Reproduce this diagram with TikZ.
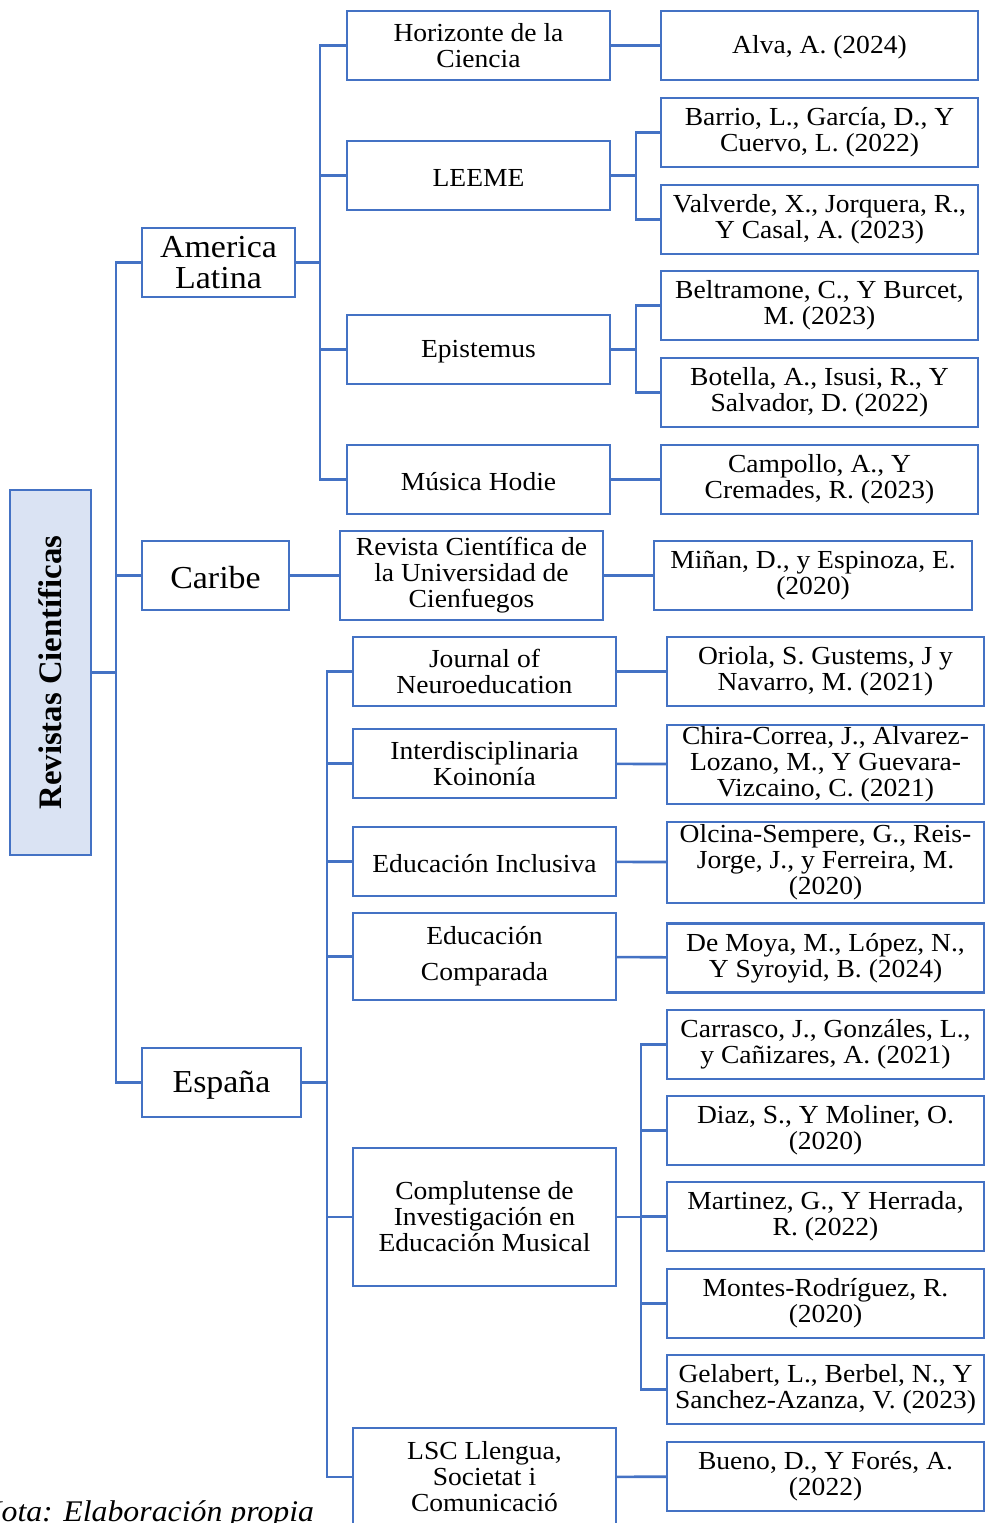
\documentclass[tikz,border=0pt]{standalone}
\usepackage{fontspec}
\setmainfont{Liberation Serif}[FakeStretch=1.06]
\newfontfamily\rootfont{Liberation Serif}
\definecolor{bblue}{HTML}{4472C4}
\definecolor{lblue}{HTML}{DAE3F3}
\begin{document}
\begin{tikzpicture}[x=0.5pt,y=-0.5pt,
  box/.style={draw=bblue,line width=1.2pt,fill=white,align=center,inner sep=0pt,
    font=\fontsize{13}{13}\selectfont,execute at begin node={\rule{0pt}{11pt}}},
  lvone/.style={box,minimum height=34.5pt,font=\fontsize{16}{15.5}\selectfont,
    execute at begin node={\rule{0pt}{13.5pt}}},
  lvtwo/.style={box,minimum width=131.5pt,minimum height=34.5pt},
  lvthree/.style={box,minimum width=158.5pt,minimum height=34.5pt},
  conn/.style={draw=bblue,line width=1.3pt}]
\useasboundingbox (0,0) rectangle (985,1523);

% buses
\coordinate (bus0) at (116,0);
\coordinate (busA) at (320,0);
\coordinate (busL) at (636,0);
\coordinate (busE) at (327,0);
\coordinate (busC) at (641,0);

% root
\node[draw=bblue,line width=1.2pt,fill=lblue,rotate=90,minimum width=182.5pt,minimum height=40.5pt,inner sep=0pt,
  font=\rootfont\bfseries\fontsize{16.4}{18}\selectfont] (root) at (50.5,672.5) {Revistas Científicas};

% level 1
\node[lvone,minimum width=76.5pt] (amlat) at (218.5,262.5) {America\\Latina};
\node[lvone,minimum width=73.5pt] (caribe) at (215.5,575.5) {Caribe};
\node[lvone,minimum width=79.5pt] (espana) at (221.5,1082.5) {España};

% level 2 America Latina
\node[lvtwo] (horiz) at (478.5,45.5) {Horizonte de la\\Ciencia};
\node[lvtwo] (leeme) at (478.5,175.5) {LEEME};
\node[lvtwo] (epist) at (478.5,349.5) {Epistemus};
\node[lvtwo] (hodie) at (478.5,479.5) {Música Hodie};

% level 3 America Latina
\node[lvthree] (alva) at (819.5,45.5) {Alva, A. (2024)};
\node[lvthree] (barrio) at (819.5,132.5) {Barrio, L., García, D., Y\\Cuervo, L. (2022)};
\node[lvthree] (valverde) at (819.5,219.5) {Valverde, X., Jorquera, R.,\\Y Casal, A. (2023)};
\node[lvthree] (beltra) at (819.5,305.5) {Beltramone, C., Y Burcet,\\M. (2023)};
\node[lvthree] (botella) at (819.5,392.5) {Botella, A., Isusi, R., Y\\Salvador, D. (2022)};
\node[lvthree] (campollo) at (819.5,479.5) {Campollo, A., Y\\Cremades, R. (2023)};

% Caribe
\node[lvtwo,minimum height=44.5pt] (cienf) at (471.5,575.5) {Revista Científica de\\la Universidad de\\Cienfuegos};
\node[lvthree,minimum width=159pt] (minan) at (813,575.5) {Miñan, D., y Espinoza, E.\\(2020)};

% level 2 España
\node[lvtwo] (journal) at (484.5,671.5) {Journal of\\Neuroeducation};
\node[lvtwo] (koinonia) at (484.5,763.5) {Interdisciplinaria\\Koinonía};
\node[lvtwo] (inclus) at (484.5,861.5) {Educación Inclusiva};
\node[lvtwo,minimum height=43.5pt] (compar) at (484.5,956.5) {Educación\\[5pt]Comparada};
\node[lvtwo,minimum height=69pt] (complut) at (484.5,1217) {Complutense de\\Investigación en\\Educación Musical};
\node[lvtwo,minimum height=49pt] (lsc) at (484.5,1477) {LSC Llengua,\\Societat i\\Comunicació};

% level 3 España
\node[lvthree] (oriola) at (825.5,671.5) {Oriola, S. Gustems, J y\\Navarro, M. (2021)};
\node[lvthree,minimum height=39.5pt] (chira) at (825.5,764.5) {Chira-Correa, J., Alvarez-\\Lozano, M., Y Guevara-\\Vizcaino, C. (2021)};
\node[lvthree,minimum height=40.5pt] (olcina) at (825.5,862.5) {Olcina-Sempere, G., Reis-\\Jorge, J., y Ferreira, M.\\(2020)};
\node[lvthree] (demoya) at (825.5,958) {De Moya, M., López, N.,\\Y Syroyid, B. (2024)};
\node[lvthree] (carrasco) at (825.5,1044.5) {Carrasco, J., Gonzáles, L.,\\y Cañizares, A. (2021)};
\node[lvthree] (diaz) at (825.5,1130.5) {Diaz, S., Y Moliner, O.\\(2020)};
\node[lvthree] (martinez) at (825.5,1216.5) {Martinez, G., Y Herrada,\\R. (2022)};
\node[lvthree] (montes) at (825.5,1303.5) {Montes-Rodríguez, R.\\(2020)};
\node[lvthree] (gelabert) at (825.5,1389.5) {Gelabert, L., Berbel, N., Y\\Sanchez-Azanza, V. (2023)};
\node[lvthree] (bueno) at (825.5,1476.5) {Bueno, D., Y Forés, A.\\(2022)};

% note
\node[anchor=base west,inner sep=0pt,font=\itshape\fontsize{15}{15}\selectfont] (nota) at (-20,1521) {Nota: Elaboración propia};

% connectors
\foreach \c in {amlat,caribe,espana}
  \draw[conn] (root.south) -- (root.south -| bus0) |- (\c.west);
\foreach \c in {horiz,leeme,epist,hodie}
  \draw[conn] (amlat.east) -- (amlat.east -| busA) |- (\c.west);
\draw[conn] (horiz) -- (alva);
\foreach \c in {barrio,valverde}
  \draw[conn] (leeme.east) -- (leeme.east -| busL) |- (\c.west);
\foreach \c in {beltra,botella}
  \draw[conn] (epist.east) -- (epist.east -| busL) |- (\c.west);
\draw[conn] (hodie) -- (campollo);
\draw[conn] (caribe) -- (cienf);
\draw[conn] (cienf) -- (minan);
\foreach \c in {journal,koinonia,inclus,compar,complut,lsc}
  \draw[conn] (espana.east) -- (espana.east -| busE) |- (\c.west);
\draw[conn] (journal) -- (oriola);
\draw[conn] (koinonia) -- (chira);
\draw[conn] (inclus) -- (olcina);
\draw[conn] (compar) -- (demoya);
\foreach \c in {carrasco,diaz,martinez,montes,gelabert}
  \draw[conn] (complut.east) -- (complut.east -| busC) |- (\c.west);
\draw[conn] (lsc) -- (bueno);
\end{tikzpicture}
\end{document}
